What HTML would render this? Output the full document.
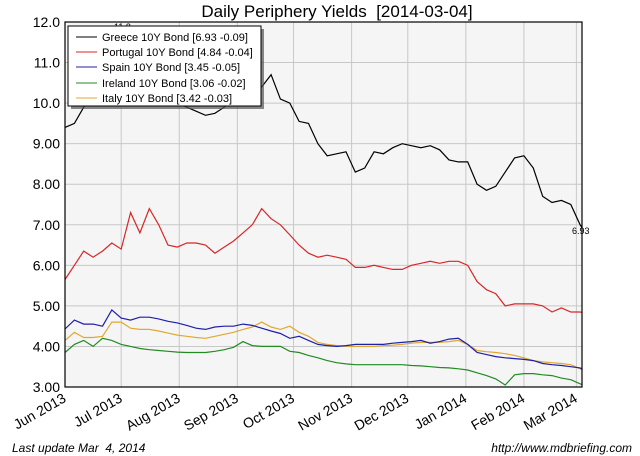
<!DOCTYPE html>
<html><head><meta charset="utf-8"><style>
html,body{margin:0;padding:0;background:#fff;}
svg{display:block;font-family:"Liberation Sans","DejaVu Sans",sans-serif;}
</style></head><body>
<svg id="chart" width="640" height="456" viewBox="0 0 640 456" xmlns="http://www.w3.org/2000/svg">
<rect x="0" y="0" width="640" height="456" fill="#fff"/>
<text x="337" y="17" font-size="17" text-anchor="middle" fill="#000">Daily Periphery Yields &#160;[2014-03-04]</text>
<rect x="65" y="22" width="517" height="365" fill="#f5f5f5"/>
<g id="grid"></g>
<g id="series"></g>
<rect x="65" y="22" width="517" height="365" fill="none" stroke="#000" stroke-width="1.2"/>
<g id="axes"></g>
<text x="114" y="30" font-size="9" fill="#000">11.8</text>
<text x="572" y="234" font-size="9" fill="#000">6.93</text>
<g>
<rect x="71" y="29" width="193" height="80" fill="#555" opacity="0.7"/>
<rect x="68" y="26" width="193" height="80" fill="#fff" stroke="#000" stroke-width="1"/>
<line x1="76" x2="97" y1="37" y2="37" stroke="#000"/><text x="102" y="41" font-size="11">Greece 10Y Bond [6.93 -0.09]</text>
<line x1="76" x2="97" y1="52" y2="52" stroke="#d62728"/><text x="102" y="56" font-size="11">Portugal 10Y Bond [4.84 -0.04]</text>
<line x1="76" x2="97" y1="67" y2="67" stroke="#1f1fa8"/><text x="102" y="71" font-size="11">Spain 10Y Bond [3.45 -0.05]</text>
<line x1="76" x2="97" y1="83" y2="83" stroke="#228b22"/><text x="102" y="87" font-size="11">Ireland 10Y Bond [3.06 -0.02]</text>
<line x1="76" x2="97" y1="98" y2="98" stroke="#e0a830"/><text x="102" y="102" font-size="11">Italy 10Y Bond [3.42 -0.03]</text>
</g>
<text x="12" y="452" font-size="12" font-style="italic">Last update Mar &#160;4, 2014</text>
<text x="632" y="452" font-size="12" font-style="italic" text-anchor="end">http://www.mdbriefing.com</text>
</svg>
<script>
const days = [0,5,10,15,20,25,30,35,40,45,50,55,60,65,70,75,80,85,90,95,100,105,110,115,120,125,130,135,140,145,150,155,160,165,170,175,180,185,190,195,200,205,210,215,220,225,230,235,240,245,250,255,260,265,270,275,276];
const greece = [9.4,9.5,9.9,10.4,11.0,11.8,11.0,10.6,10.5,10.3,10.2,10.1,10.0,9.9,9.8,9.7,9.75,9.9,10.1,10.2,10.3,10.4,10.7,10.1,10.0,9.55,9.5,9.0,8.7,8.75,8.8,8.3,8.4,8.8,8.75,8.9,9.0,8.95,8.9,8.95,8.85,8.6,8.55,8.55,8.0,7.85,7.95,8.3,8.65,8.7,8.4,7.7,7.55,7.6,7.5,7.0,6.93];
const portugal = [5.65,6.0,6.35,6.2,6.35,6.55,6.4,7.3,6.8,7.4,7.0,6.5,6.45,6.55,6.55,6.5,6.3,6.45,6.6,6.8,7.0,7.4,7.15,7.0,6.75,6.5,6.3,6.2,6.25,6.2,6.15,5.95,5.95,6.0,5.95,5.9,5.9,6.0,6.05,6.1,6.05,6.1,6.1,6.0,5.6,5.4,5.3,5.0,5.05,5.05,5.05,5.0,4.85,4.95,4.85,4.85,4.84];
const spain = [4.43,4.65,4.55,4.55,4.5,4.9,4.7,4.65,4.72,4.72,4.68,4.62,4.58,4.52,4.45,4.42,4.48,4.5,4.5,4.55,4.52,4.45,4.38,4.32,4.2,4.25,4.15,4.05,4.02,4.0,4.02,4.05,4.05,4.05,4.05,4.08,4.1,4.12,4.15,4.08,4.12,4.18,4.2,4.05,3.85,3.8,3.75,3.72,3.7,3.68,3.65,3.58,3.55,3.53,3.5,3.47,3.45];
const ireland = [3.85,4.05,4.15,4.0,4.2,4.15,4.05,4.0,3.95,3.92,3.9,3.88,3.86,3.85,3.85,3.85,3.88,3.92,3.98,4.12,4.02,4.0,4.0,4.0,3.88,3.85,3.78,3.72,3.65,3.6,3.57,3.55,3.55,3.55,3.55,3.55,3.55,3.53,3.52,3.5,3.48,3.47,3.45,3.42,3.35,3.28,3.2,3.05,3.3,3.33,3.33,3.3,3.28,3.22,3.18,3.08,3.06];
const italy = [4.15,4.35,4.22,4.22,4.25,4.6,4.6,4.45,4.42,4.42,4.38,4.33,4.28,4.25,4.22,4.2,4.25,4.3,4.35,4.42,4.48,4.6,4.48,4.42,4.5,4.35,4.25,4.1,4.05,4.02,4.0,4.0,4.0,4.0,4.02,4.03,4.05,4.08,4.1,4.1,4.1,4.12,4.15,4.05,3.9,3.87,3.85,3.82,3.78,3.72,3.65,3.62,3.6,3.58,3.55,3.45,3.42];
const yTicks = [3,4,5,6,7,8,9,10,11,12];
const yTickLabels = ["3.00","4.00","5.00","6.00","7.00","8.00","9.00","10.0","11.0","12.0"];
const xTickDays = [0,30,61,92,122,153,183,214,245,273];
const xTickLabels = ["Jun 2013","Jul 2013","Aug 2013","Sep 2013","Oct 2013","Nov 2013","Dec 2013","Jan 2014","Feb 2014","Mar 2014"];

const NS = "http://www.w3.org/2000/svg";
const X0=65, X1=582, Y0=387, Y1=22, DMAX=276, VMIN=3, VMAX=12;
function xs(d){return X0+(X1-X0)*d/DMAX;}
function ys(v){return Y0-(Y0-Y1)*(v-VMIN)/(VMAX-VMIN);}
const grid=document.getElementById('grid'), axes=document.getElementById('axes'), ser=document.getElementById('series');
yTicks.forEach((t,i)=>{
  const y=ys(t);
  const l=document.createElementNS(NS,'line');
  
  
  l.setAttribute('x1',X0);l.setAttribute('x2',X1);l.setAttribute('y1',y);l.setAttribute('y2',y);
  l.setAttribute('stroke','#c8c8c8');l.setAttribute('stroke-width','1');
  grid.appendChild(l);
  const tx=document.createElementNS(NS,'text');
  
  
  tx.setAttribute('x',X0-5);tx.setAttribute('y',y+5);tx.setAttribute('font-size','14');tx.setAttribute('text-anchor','end');
  tx.textContent=yTickLabels[i];
  axes.appendChild(tx);
});
xTickDays.forEach((d,i)=>{
  const x=xs(d);
  const l=document.createElementNS(NS,'line');
  
  
  l.setAttribute('x1',x);l.setAttribute('x2',x);l.setAttribute('y1',Y1);l.setAttribute('y2',Y0);
  l.setAttribute('stroke','#c8c8c8');l.setAttribute('stroke-width','1');
  grid.appendChild(l);
  const tx=document.createElementNS(NS,'text');
  
  
  tx.setAttribute('x',x+2);tx.setAttribute('y',Y0+14);tx.setAttribute('font-size','14');tx.setAttribute('text-anchor','end');
  tx.setAttribute('transform','rotate(-30 '+(x+2)+' '+(Y0+14)+')');
  tx.textContent=xTickLabels[i];
  axes.appendChild(tx);
});
function line(vals,color,name){
  const p=document.createElementNS(NS,'polyline');
  
  
  p.setAttribute('points',vals.map((v,i)=>xs(days[i]).toFixed(1)+','+ys(v).toFixed(1)).join(' '));
  p.setAttribute('fill','none');p.setAttribute('stroke',color);p.setAttribute('stroke-width','1.2');
  ser.appendChild(p);
}
line(ireland,'#228b22','ireland-line');
line(italy,'#e0a830','italy-line');
line(spain,'#1f1fa8','spain-line');
line(portugal,'#d62728','portugal-line');
line(greece,'#000','greece-line');
</script>
</body></html>
